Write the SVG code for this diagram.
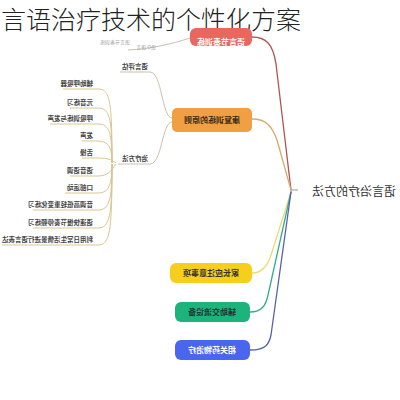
<svg xmlns="http://www.w3.org/2000/svg" width="400" height="400" viewBox="0 0 400 400">
<style>
.t{font-family:"Noto Sans CJK SC","Noto Sans",sans-serif}
.title{font-size:25px;font-weight:300;fill:#222}
.lbl{font-size:6.5px;fill:#444;font-weight:bold}
.nt{font-size:8px;font-weight:bold}
.c{fill:none;stroke-width:1.3;stroke-linecap:round}
.lc{fill:none;stroke:#d8c690;stroke-width:1}
.sc{fill:none;stroke:#c9c1ad;stroke-width:1}
</style>
<rect width="400" height="400" fill="#fff"/>
<g id="connectors">
  <path class="c" stroke="#b0544e" d="M291,190 L276,64 C273,44 266,37 252,37"/>
  <path class="c" stroke="#d8aa70" d="M252,119 C266,119 272,126 277,140 L291,190"/>
  <path class="c" stroke="#eadb78" d="M252,273 C264,273 269,263 272,252 L291,192"/>
  <path class="c" stroke="#35ad8c" d="M250,312 C262,312 266,305 268,295 L291,192"/>
  <path class="c" stroke="#5560b2" d="M250,350 C265,350 269,345 271,335 L291,192"/>
  <path fill="none" stroke="#999" stroke-width="1" d="M292,190 H298"/>
  <path class="sc" d="M120,72 H150 C162,72 162,118 172,118"/>
  <path class="sc" d="M118,164 H150 C162,164 162,122 172,122"/>
  <path class="sc" d="M128,50 C150,49 172,44 190,38"/>
  <g class="lc">
    <path d="M63,89 H98 C110,89 112,100 112,163"/>
    <path d="M70,108 H98 C110,108 112,118 112,163"/>
    <path d="M50,124 H98 C110,124 112,134 112,163"/>
    <path d="M82,141 H98 C110,141 112,150 112,163"/>
    <path d="M82,158 H98 C108,158 112,160 116,163"/>
    <path d="M70,176 H98 C108,176 112,170 116,164"/>
    <path d="M65,193 H98 C110,193 112,182 112,164"/>
    <path d="M33,210 H98 C110,210 112,198 112,164"/>
    <path d="M33,228 H98 C110,228 112,215 112,164"/>
    <path d="M2,245 H98 C110,245 112,232 112,164"/>
  </g>
</g>
<text class="t title" x="1" y="29.3">言语治疗技术的个性化方案</text>
<g id="top-gray">
  <text class="t" font-size="5" fill="#999" transform="translate(130,43.5) scale(-1,1)">语言节奏训练</text>
  <text class="t" font-size="5" fill="#999" transform="translate(156,48.5) scale(-1,1)">语O 语言</text>
</g>
<g id="center">
  <text class="t" font-size="12" fill="#333" transform="translate(396,196) scale(-1,1)">语言治疗的方法</text>
</g>
<g id="n-red">
  <rect x="190" y="28" width="62" height="18" rx="6" fill="#ea6760"/>
  <text class="t nt" font-size="6.5" fill="#fff" text-anchor="middle" transform="translate(221,44.5) scale(-1,1)">语言节奏训练</text>
</g>
<g id="n-orange">
  <rect x="172" y="108" width="80" height="24" rx="5" fill="#f0a042"/>
  <text class="t nt" fill="#3a2a1a" text-anchor="middle" transform="translate(212,123) scale(-1,1)">康复训练的原则</text>
</g>
<g id="n-yellow">
  <rect x="170" y="263" width="82" height="20" rx="6" fill="#f5cf1c"/>
  <text class="t nt" fill="#333" text-anchor="middle" transform="translate(211,276) scale(-1,1)">家长应注意事项</text>
</g>
<g id="n-green">
  <rect x="175" y="302" width="75" height="20" rx="6" fill="#1db37c"/>
  <text class="t nt" fill="#233" text-anchor="middle" transform="translate(212,315) scale(-1,1)">辅助交流设备</text>
</g>
<g id="n-blue">
  <rect x="175" y="340" width="75" height="20" rx="6" fill="#4866ee"/>
  <text class="t nt" fill="#fff" text-anchor="middle" transform="translate(212,353) scale(-1,1)">相关药物治疗</text>
</g>
<g id="sub-assess"><text class="t lbl" text-anchor="middle" transform="translate(135,69) scale(-1,1)">语言评估</text></g>
<g id="sub-method"><text class="t lbl" text-anchor="middle" transform="translate(135,161) scale(-1,1)">治疗方法</text></g>
<g id="items">
  <text class="t lbl" transform="translate(93,86) scale(-1,1)">辅助呼吸器</text>
  <text class="t lbl" transform="translate(93,105) scale(-1,1)">元音练习</text>
  <text class="t lbl" transform="translate(93,121) scale(-1,1)">呼吸训练与发声</text>
  <text class="t lbl" transform="translate(93,138) scale(-1,1)">发声</text>
  <text class="t lbl" transform="translate(93,155) scale(-1,1)">舌操</text>
  <text class="t lbl" transform="translate(93,173) scale(-1,1)">语音语调</text>
  <text class="t lbl" transform="translate(93,190) scale(-1,1)">口部运动</text>
  <text class="t lbl" transform="translate(93,207) scale(-1,1)">音调高低轻重变化练习</text>
  <text class="t lbl" transform="translate(93,225) scale(-1,1)">语速快慢节奏停顿练习</text>
  <text class="t lbl" transform="translate(93,242) scale(-1,1)">利用日常生活情景进行语言表达</text>
</g>
</svg>
